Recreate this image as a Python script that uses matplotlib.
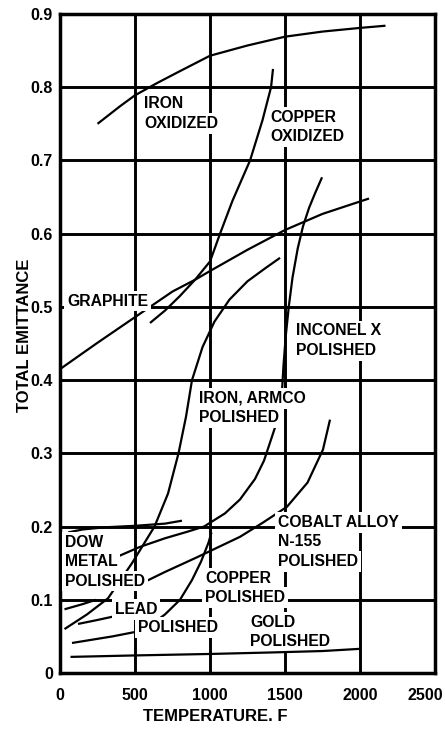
import matplotlib
matplotlib.use('Agg')
import matplotlib.pyplot as plt
import matplotlib.transforms as mtransforms

plt.rcParams['font.family'] = ['Liberation Sans', 'DejaVu Sans']
plt.rcParams['font.weight'] = 'bold'

# Emittance curves, temperature in deg F
iron_ox_t = [250, 400, 500, 650, 800, 1000, 1250, 1500, 1750, 2000, 2170]
iron_ox_e = [0.750, 0.774, 0.789, 0.806, 0.822, 0.843, 0.857, 0.869, 0.876, 0.881, 0.884]

copper_ox_t = [600, 700, 800, 900, 1000, 1067, 1150, 1267, 1350, 1407, 1420]
copper_ox_e = [0.478, 0.495, 0.515, 0.537, 0.562, 0.600, 0.645, 0.700, 0.755, 0.800, 0.825]

graphite_t = [0, 250, 500, 750, 900, 1000, 1250, 1500, 1750, 2060]
graphite_e = [0.415, 0.451, 0.486, 0.521, 0.537, 0.549, 0.578, 0.605, 0.627, 0.648]

inconel_t = [1480, 1490, 1505, 1525, 1550, 1585, 1620, 1660, 1700, 1747]
inconel_e = [0.385, 0.420, 0.460, 0.500, 0.540, 0.580, 0.610, 0.635, 0.655, 0.677]

armco_t = [30, 180, 320, 480, 630, 720, 790, 840, 880, 950, 1030, 1130, 1250, 1370, 1467]
armco_e = [0.060, 0.080, 0.102, 0.150, 0.200, 0.245, 0.300, 0.350, 0.400, 0.445, 0.480, 0.510, 0.535, 0.553, 0.567]

dow_t = [30, 150, 240]
dow_e = [0.087, 0.094, 0.100]

dow_upper_t = [373, 530, 700, 850, 960, 1100, 1200, 1300, 1360, 1433]
dow_upper_e = [0.158, 0.172, 0.184, 0.193, 0.200, 0.218, 0.237, 0.265, 0.290, 0.335]

flat_t = [55, 150, 300, 500, 700, 813]
flat_e = [0.192, 0.196, 0.199, 0.201, 0.204, 0.208]

cobalt_t = [550, 700, 913, 1200, 1350, 1513, 1650, 1753, 1800]
cobalt_e = [0.123, 0.138, 0.158, 0.186, 0.205, 0.227, 0.260, 0.305, 0.346]

copper_pol_t = [80, 200, 350, 500, 620, 700, 800, 880, 940, 990, 1010]
copper_pol_e = [0.041, 0.045, 0.050, 0.056, 0.068, 0.080, 0.100, 0.127, 0.152, 0.178, 0.192]

lead_t = [120, 240, 353]
lead_e = [0.067, 0.072, 0.077]

gold_t = [70, 500, 1000, 1400, 1750, 2000]
gold_e = [0.022, 0.024, 0.026, 0.028, 0.030, 0.033]

curves = [
    (iron_ox_t, iron_ox_e), (copper_ox_t, copper_ox_e), (graphite_t, graphite_e),
    (inconel_t, inconel_e), (armco_t, armco_e), (dow_t, dow_e),
    (dow_upper_t, dow_upper_e), (flat_t, flat_e), (cobalt_t, cobalt_e),
    (copper_pol_t, copper_pol_e), (lead_t, lead_e),
]

# Curve labels: text, left x, centre y
labels = [
    ('IRON\nOXIDIZED', 560, 0.764),
    ('COPPER\nOXIDIZED', 1400, 0.746),
    ('GRAPHITE', 47, 0.508),
    ('INCONEL X\nPOLISHED', 1573, 0.454),
    ('IRON, ARMCO\nPOLISHED', 927, 0.362),
    ('DOW\nMETAL\nPOLISHED', 33, 0.152),
    ('LEAD', 367, 0.087),
    ('POLISHED', 520, 0.062),
    ('COPPER\nPOLISHED', 967, 0.116),
    ('COBALT ALLOY\nN-155\nPOLISHED', 1453, 0.179),
    ('GOLD\nPOLISHED', 1267, 0.056),
]
line_pitch = 0.0265  # emittance units between label lines

x_ticks = [0, 500, 1000, 1500, 2000, 2500]
x_tick_labels = ['0', '500', '1000', '1500', '2000', '2500']
y_ticks = [0, 0.1, 0.2, 0.3, 0.4, 0.5, 0.6, 0.7, 0.8, 0.9]
y_tick_labels = ['0', '0.1', '0.2', '0.3', '0.4', '0.5', '0.6', '0.7', '0.8', '0.9']

fig = plt.figure(figsize=(4.45, 7.29), dpi=100)
ax = fig.add_axes([60 / 445, 1 - 673 / 729, 375 / 445, 659 / 729])

ax.set_xlim(0, 2500)
ax.set_ylim(0, 0.9)

for t, e in curves:
    ax.plot(t, e, color='black', linewidth=1.6, solid_capstyle='butt', zorder=3)
# gold line runs just under its label and stays visible
ax.plot(gold_t, gold_e, color='black', linewidth=1.6, solid_capstyle='butt', zorder=6)

# each label line gets its own white box so it only masks what it covers
for text, x, y in labels:
    rows = text.split('\n')
    n = len(rows)
    for i, row in enumerate(rows):
        yy = y + ((n - 1) / 2 - i) * line_pitch
        ax.text(x, yy, row, ha='left', va='center', fontsize=11.3, fontweight='bold',
                zorder=5, bbox=dict(facecolor='white', edgecolor='none', pad=2.0))

ax.set_xticks(x_ticks)
ax.set_xticklabels(x_tick_labels)
ax.set_yticks(y_ticks)
ax.set_yticklabels(y_tick_labels)
ax.tick_params(length=0, labelsize=11.5)
ax.tick_params(axis='x', pad=11)
ax.tick_params(axis='y', pad=5)
for lab in ax.get_xticklabels() + ax.get_yticklabels():
    lab.set_fontweight('bold')

# keep the last tick label inside the figure
last = ax.get_xticklabels()[-1]
last.set_transform(last.get_transform() + mtransforms.ScaledTranslation(-0.1, 0, fig.dpi_scale_trans))

ax.grid(True, color='black', linewidth=2.1, zorder=1)
ax.set_axisbelow(True)
for sp in ax.spines.values():
    sp.set_linewidth(2.5)

ax.set_xlabel('TEMPERATURE. F', fontsize=12, fontweight='bold')
ax.xaxis.set_label_coords((215 - 60) / 375, -0.054)
ax.set_ylabel('TOTAL EMITTANCE', fontsize=12, fontweight='bold')
ax.yaxis.set_label_coords(-0.075, 0.513)

fig.savefig('out.png', dpi=100)
